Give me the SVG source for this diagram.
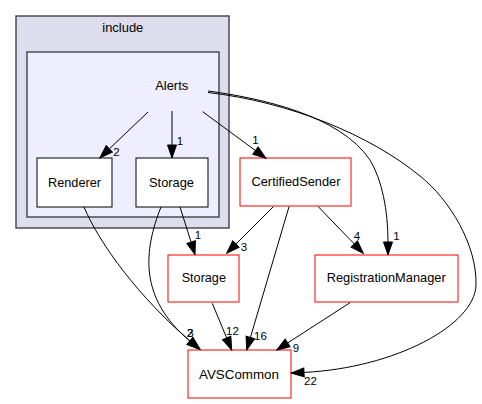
<svg xmlns="http://www.w3.org/2000/svg" width="482" height="404" viewBox="0 0 482 404">
<style>
text{font-family:"Liberation Sans",Arial,sans-serif;font-size:12.6px;fill:#000;text-anchor:middle}
.cl{stroke:#404040;stroke-width:1.4}
.n{fill:#fff;stroke:#000;stroke-width:1}
.r{fill:#fff;stroke:#ff0000;stroke-width:1}
.e{fill:none;stroke:#000;stroke-width:1;marker-end:url(#ah)}
text.l{font-size:11.5px}
</style>
<defs>
<marker id="ah" markerUnits="userSpaceOnUse" markerWidth="15" markerHeight="12" viewBox="-1 -1.5 15 12" refX="0" refY="4.5" orient="auto">
<path d="M0,0 L13,4.5 L0,9 z" fill="#000" stroke="#000" stroke-width="1"/>
</marker>
</defs>
<g id="cluster_include">
<rect class="cl" x="16" y="16" width="213" height="212" fill="#ddddee"/>
<text x="122.8" y="31.5" textLength="41" lengthAdjust="spacingAndGlyphs">include</text>
</g>
<g id="cluster_Alerts">
<rect class="cl" x="27" y="52" width="192" height="165" fill="#eeeeff"/>
<text x="171.7" y="90" textLength="33" lengthAdjust="spacingAndGlyphs">Alerts</text>
</g>
<g id="node_Renderer">
<rect class="n" x="37" y="158" width="75" height="49"/>
<text x="74.5" y="186.5" textLength="53" lengthAdjust="spacingAndGlyphs">Renderer</text>
</g>
<g id="node_Storage_inner">
<rect class="n" x="136" y="158" width="72" height="49"/>
<text x="171.5" y="186.5" textLength="45" lengthAdjust="spacingAndGlyphs">Storage</text>
</g>
<g id="node_CertifiedSender">
<rect class="r" x="240" y="158" width="111" height="48"/>
<text x="296" y="186" textLength="89" lengthAdjust="spacingAndGlyphs">CertifiedSender</text>
</g>
<g id="node_Storage">
<rect class="r" x="168" y="255" width="71" height="47"/>
<text x="203.8" y="282" textLength="44.3" lengthAdjust="spacingAndGlyphs">Storage</text>
</g>
<g id="node_RegistrationManager">
<rect class="r" x="315" y="255" width="143" height="47"/>
<text x="386.2" y="282" textLength="119" lengthAdjust="spacingAndGlyphs">RegistrationManager</text>
</g>
<g id="node_AVSCommon">
<rect class="r" x="188" y="350" width="103" height="48"/>
<text x="239" y="378.5" textLength="80" lengthAdjust="spacingAndGlyphs">AVSCommon</text>
</g>
<g id="connectors">
<path class="e" d="M148,112 L109.3,148.9"/>
<text class="l" x="116.5" y="155.5">2</text>
<path class="e" d="M172,111 L172,145"/>
<text class="l" x="180" y="144.5">1</text>
<path class="e" d="M202.7,111.7 L255.5,150.6"/>
<text class="l" x="255.5" y="143.5">1</text>
<path class="e" d="M208,91 C260,98 340,115 370,160 C382,180 388,210 388,242"/>
<text class="l" x="396.5" y="239.5">1</text>
<path class="e" d="M208,92.5 C290,102 370,135 420,176 C450,200 477,245 476,285 C475,325 395,368 304,372.4"/>
<text class="l" x="310.5" y="384.5">22</text>
<path class="e" d="M84,207 C100,245 140,298 190,341"/>
<path class="e" d="M161,207 C144,250 138,298 190,341"/>
<text class="l" x="190" y="337">2</text>
<text class="l" x="190.5" y="337">3</text>
<path class="e" d="M180,207 L191.1,242.1"/>
<text class="l" x="198" y="238.5">1</text>
<path class="e" d="M273.3,206.7 L235.9,244.1"/>
<text class="l" x="244" y="250.5">3</text>
<path class="e" d="M289,206.7 L250.4,337.5"/>
<text class="l" x="260.5" y="339.5">16</text>
<path class="e" d="M318.3,206.7 L354.3,244"/>
<text class="l" x="357" y="239.5">4</text>
<path class="e" d="M212.3,303.3 L226.7,338"/>
<text class="l" x="232.5" y="334.5">12</text>
<path class="e" d="M350,302.7 L287.6,343"/>
<text class="l" x="296" y="351.5">9</text>
</g>
</svg>
